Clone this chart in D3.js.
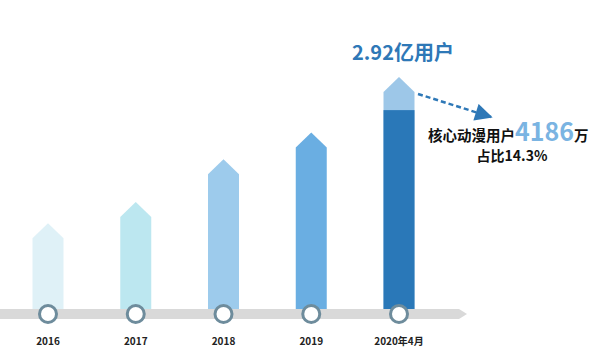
<!DOCTYPE html>
<html>
<head>
<meta charset="utf-8">
<script src="https://cdn.jsdelivr.net/npm/d3@7"></script>
<style>
  body { margin: 0; background: #fff; }
  text { font-family: "Noto Sans CJK SC", "Open Sans", sans-serif; }
</style>
</head>
<body>
<svg id="chart" width="600" height="354"></svg>
<script>
// 数据 (亿用户)
const years = ['2016', '2017', '2018', '2019', '2020年4月']
const users = [1.07, 1.34, 1.88, 2.22, 2.92]
const coreUsers = 0.4186   // 核心动漫用户 4186万
const barColors = ['#dff1f7', '#bce7f0', '#9dcbec', '#6aaee2', '#2a78b8']

const width = 600, height = 354
const baseY = 308
const svg = d3.select('#chart')

let xScale = d3.scalePoint().domain(years).range([48, 399])
let yScale = d3.scaleLinear().domain([0, 2.92]).range([baseY, 77])
const bw = 31, head = 15

// 箭头形柱子
const arrowPath = (x, top, bottom) => {
  return `M${x - bw / 2},${bottom} L${x - bw / 2},${top + head} L${x},${top} L${x + bw / 2},${top + head} L${x + bw / 2},${bottom} Z`
}

const data = years.map((y, i) => ({ year: y, value: users[i], color: barColors[i] }))
const last = data[data.length - 1]

svg.selectAll('.bar')
  .data(data)
  .enter()
  .append('path')
  .attr('class', 'bar')
  .attr('d', d => arrowPath(xScale(d.year), yScale(d.value), baseY + 2))
  .attr('fill', (d, i) => i === data.length - 1 ? '#9dc7e8' : d.color)

// 2020 核心用户以外的部分
svg.append('rect')
  .attr('x', xScale(last.year) - bw / 2)
  .attr('y', yScale(last.value - coreUsers))
  .attr('width', bw)
  .attr('height', baseY + 2 - yScale(last.value - coreUsers))
  .attr('fill', last.color)

// 灰色时间轴
svg.append('path')
  .attr('d', 'M0,309 L459,309 L467,314 L459,319 L0,319 Z')
  .attr('fill', '#d9d9d9')

svg.selectAll('.dot')
  .data(data)
  .enter()
  .append('circle')
  .attr('cx', d => xScale(d.year))
  .attr('cy', 314)
  .attr('r', 8.5)
  .attr('fill', '#fff')
  .attr('stroke', '#6e8c9c')
  .attr('stroke-width', 3)

svg.selectAll('.year')
  .data(data)
  .enter()
  .append('text')
  .attr('x', d => xScale(d.year))
  .attr('y', 345)
  .attr('text-anchor', 'middle')
  .attr('font-size', 10)
  .attr('font-weight', 'bold')
  .attr('fill', '#222')
  .text(d => d.year)

// 总量
svg.append('text')
  .attr('x', xScale(last.year) + 4)
  .attr('y', 60)
  .attr('text-anchor', 'middle')
  .attr('font-size', 20)
  .attr('font-weight', 'bold')
  .attr('fill', '#2e78b7')
  .text(`${last.value}亿用户`)

// 虚线箭头
svg.append('defs').append('marker')
  .attr('id', 'tri')
  .attr('viewBox', '0 0 10 10')
  .attr('refX', 9).attr('refY', 5)
  .attr('markerWidth', 8).attr('markerHeight', 7)
  .attr('markerUnits', 'strokeWidth')
  .attr('orient', 'auto')
  .append('path')
  .attr('d', 'M0,0 L10,5 L0,10 Z')
  .attr('fill', '#2e78b7')

svg.append('line')
  .attr('x1', 418).attr('y1', 94)
  .attr('x2', 491).attr('y2', 117)
  .attr('stroke', '#2e78b7')
  .attr('stroke-width', 2.5)
  .attr('stroke-dasharray', '5,3')
  .attr('marker-end', 'url(#tri)')

// 核心用户说明
let note = svg.append('text')
  .attr('x', 428)
  .attr('y', 141)
  .attr('font-weight', 'bold')
  .attr('fill', '#111')
note.append('tspan').attr('font-size', 14.5).text('核心动漫用户')
note.append('tspan').attr('font-size', 25).attr('fill', '#7ab4e2').text(Math.round(coreUsers * 10000))
note.append('tspan').attr('font-size', 14.5).text('万')

svg.append('text')
  .attr('x', 512)
  .attr('y', 161)
  .attr('text-anchor', 'middle')
  .attr('font-size', 14)
  .attr('font-weight', 'bold')
  .attr('fill', '#111')
  .text(`占比${(coreUsers / last.value * 100).toFixed(1)}%`)
</script>
</body>
</html>
